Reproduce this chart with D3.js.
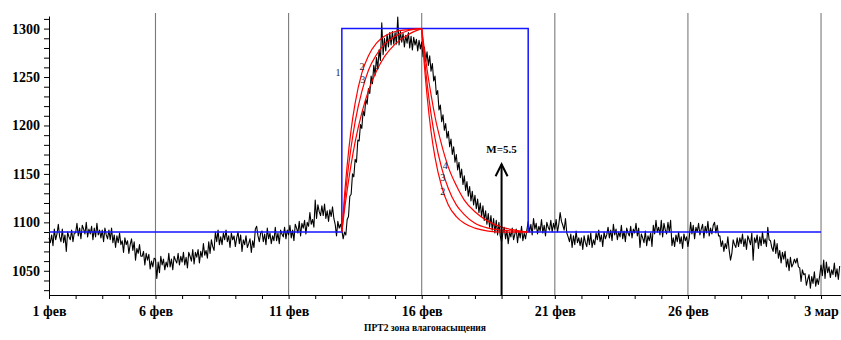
<!DOCTYPE html>
<html>
<head>
<meta charset="utf-8">
<script src="https://cdn.jsdelivr.net/npm/d3@7"></script>
<style>
  body { margin: 0; background: #fff; }
  svg { display: block; }
  .axis text { font-family: "Liberation Serif", serif; font-weight: bold; font-size: 14px; fill: #000; }
  .axis path, .axis line { stroke: #000; }
</style>
</head>
<body>
<div id="chart"></div>
<script>
// x = days counted from 1 фев (day 1 = axis start)
const dayLabels = ["1 фев", "6 фев", "11 фев", "16 фев", "21 фев", "26 фев", "3 мар"];
const labelDays = [1, 5, 10, 15, 20, 25, 30];
const gridDays = [5, 10, 15, 20, 25, 30];

// measured pressure, one reading every 0.05 day starting at day 1
const seriesStart = 1.0;
const seriesStep = 0.05;
const measured = [
  1084, 1079, 1087, 1076, 1093, 1082, 1088, 1098, 1085, 1080, 1093, 1079, 1087, 1070, 1090, 1085, 1082, 1092, 1080, 1089,
  1089, 1099, 1086, 1094, 1083, 1097, 1093, 1088, 1100, 1085, 1093, 1088, 1096, 1082, 1094, 1085, 1099, 1087, 1092, 1084,
  1092, 1080, 1094, 1087, 1083, 1092, 1082, 1094, 1079, 1087, 1074, 1086, 1079, 1089, 1077, 1081, 1069, 1084, 1077, 1081,
  1068, 1077, 1083, 1071, 1080, 1061, 1073, 1068, 1077, 1065, 1065, 1070, 1056, 1068, 1061, 1067, 1052, 1060, 1054, 1063,
  1062, 1042, 1059, 1048, 1065, 1056, 1062, 1051, 1059, 1054, 1068, 1054, 1062, 1051, 1065, 1061, 1058, 1068, 1056, 1065,
  1059, 1069, 1056, 1064, 1053, 1069, 1065, 1060, 1072, 1057, 1069, 1064, 1072, 1058, 1070, 1064, 1078, 1066, 1071, 1063,
  1080, 1068, 1082, 1075, 1071, 1090, 1080, 1092, 1077, 1085, 1077, 1089, 1082, 1092, 1080, 1086, 1074, 1089, 1082, 1086,
  1075, 1084, 1090, 1078, 1087, 1070, 1082, 1077, 1086, 1074, 1078, 1083, 1069, 1081, 1074, 1093, 1096, 1086, 1080, 1089,
  1091, 1080, 1088, 1077, 1094, 1083, 1089, 1078, 1086, 1081, 1095, 1081, 1089, 1078, 1092, 1088, 1085, 1095, 1083, 1092,
  1087, 1097, 1084, 1092, 1081, 1098, 1094, 1089, 1101, 1086, 1099, 1094, 1102, 1088, 1100, 1096, 1110, 1098, 1103, 1095,
  1123, 1104, 1118, 1111, 1107, 1117, 1107, 1119, 1104, 1112, 1101, 1113, 1106, 1116, 1104, 1098, 1086, 1101, 1094, 1098,
  1092, 1083, 1090, 1087, 1103, 1106, 1127, 1129, 1150, 1147, 1165, 1162, 1185, 1184, 1201, 1197, 1215, 1210, 1227, 1222,
  1238, 1233, 1251, 1243, 1262, 1252, 1270, 1259, 1278, 1267, 1306, 1273, 1290, 1277, 1294, 1281, 1296, 1283, 1297, 1284,
  1296, 1284, 1312, 1283, 1297, 1286, 1295, 1281, 1293, 1285, 1296, 1280, 1292, 1278, 1291, 1283, 1289, 1277, 1288, 1279,
  1286, 1271, 1281, 1266, 1276, 1262, 1272, 1256, 1264, 1246, 1251, 1232, 1236, 1216, 1221, 1204, 1211, 1195, 1202, 1187,
  1194, 1178, 1186, 1170, 1178, 1162, 1170, 1154, 1162, 1146, 1155, 1139, 1148, 1133, 1142, 1127, 1137, 1122, 1132, 1118,
  1128, 1114, 1124, 1110, 1120, 1106, 1117, 1102, 1112, 1098, 1109, 1095, 1107, 1092, 1104, 1089, 1102, 1087, 1100, 1086,
  1080, 1089, 1095, 1083, 1092, 1078, 1090, 1085, 1094, 1082, 1088, 1093, 1079, 1091, 1084, 1096, 1081, 1089, 1083, 1092,
  1101, 1090, 1098, 1087, 1104, 1093, 1099, 1088, 1096, 1091, 1103, 1089, 1097, 1086, 1100, 1095, 1092, 1102, 1090, 1099,
  1093, 1103, 1090, 1098, 1110, 1101, 1097, 1092, 1104, 1089, 1085, 1080, 1088, 1074, 1086, 1077, 1091, 1079, 1084, 1076,
  1084, 1072, 1086, 1079, 1075, 1087, 1077, 1089, 1074, 1082, 1077, 1089, 1082, 1092, 1080, 1087, 1075, 1090, 1083, 1087,
  1095, 1084, 1092, 1081, 1098, 1087, 1093, 1082, 1090, 1085, 1097, 1083, 1091, 1080, 1094, 1089, 1086, 1096, 1084, 1093,
  1089, 1099, 1086, 1094, 1074, 1088, 1084, 1079, 1091, 1076, 1086, 1081, 1089, 1075, 1097, 1088, 1102, 1090, 1095, 1087,
  1102, 1085, 1099, 1092, 1088, 1100, 1090, 1102, 1076, 1084, 1075, 1087, 1080, 1090, 1078, 1085, 1073, 1088, 1081, 1085,
  1075, 1084, 1100, 1088, 1097, 1083, 1095, 1090, 1099, 1087, 1093, 1098, 1084, 1096, 1089, 1101, 1086, 1094, 1088, 1097,
  1100, 1089, 1097, 1086, 1086, 1075, 1081, 1070, 1078, 1073, 1085, 1071, 1061, 1068, 1082, 1077, 1074, 1084, 1075, 1084,
  1078, 1088, 1075, 1083, 1072, 1086, 1082, 1077, 1089, 1061, 1084, 1079, 1087, 1073, 1085, 1076, 1090, 1078, 1083, 1075,
  1095, 1082, 1081, 1074, 1070, 1082, 1068, 1078, 1063, 1071, 1058, 1069, 1062, 1070, 1054, 1062, 1050, 1064, 1054, 1057,
  1062, 1058, 1063, 1054, 1053, 1039, 1051, 1046, 1047, 1035, 1041, 1046, 1032, 1044, 1037, 1049, 1034, 1042, 1036, 1045,
  1056, 1045, 1061, 1042, 1059, 1048, 1054, 1043, 1051, 1046, 1058, 1044, 1052, 1041, 1055
];

// curve 1: injected rate (step)
const stepDays = [1, 12, 12, 19, 19, 30];
const stepLevels = [1090, 1090, 1300, 1300, 1090, 1090];

// model curves 2..4: build-up and fall-off
const riseDays = [12, 12.1, 12.2, 12.35, 12.5, 12.75, 13, 13.3, 13.6, 14, 14.5, 15];
const rise2 = [1090, 1128, 1159, 1196, 1223, 1254, 1272, 1285, 1292, 1297, 1299, 1300];
const rise3 = [1090, 1120, 1146, 1178, 1204, 1235, 1257, 1273, 1284, 1292, 1298, 1300];
const rise4 = [1090, 1113, 1133, 1160, 1183, 1213, 1236, 1256, 1271, 1284, 1294, 1300];
const fallDays = [15, 15.1, 15.2, 15.35, 15.5, 15.75, 16, 16.3, 16.6, 17, 17.5, 18, 18.5, 19];
const fall2 = [1300, 1262, 1231, 1194, 1167, 1137, 1118, 1106, 1099, 1094, 1091, 1090, 1090, 1090];
const fall3 = [1300, 1270, 1244, 1212, 1187, 1156, 1135, 1118, 1108, 1099, 1094, 1092, 1091, 1090];
const fall4 = [1300, 1278, 1258, 1232, 1209, 1180, 1157, 1138, 1123, 1111, 1101, 1095, 1092, 1090];

// curve number labels (day, value)
const curveLabels = ["1", "2", "3", "4", "4", "3", "2"];
const curveLabelDays = [11.86, 12.76, 12.79, 13.3, 15.88, 15.79, 15.79];
const curveLabelValues = [1255, 1261, 1247, 1261, 1159, 1146, 1132];

const arrowDay = 18;
const arrowTop = 1160;
const arrowText = "M=5.5";
const title = "ПРТ2 зона влагонасыщения";

const margin = { top: 16, right: 0, bottom: 45, left: 49 };
const width = 841 - margin.left - margin.right;
const height = 340 - margin.top - margin.bottom;

const svg = d3.select("#chart").append("svg")
  .attr("width", 841)
  .attr("height", 340)
  .append("g")
  .attr("transform", "translate(" + margin.left + "," + margin.top + ")");

const x = d3.scaleLinear().domain([1, 30.75]).range([0, width]);
const y = d3.scaleLinear().domain([1025, 1313]).range([height, 0]);

// vertical grid
svg.selectAll(".grid")
  .data(gridDays)
  .enter()
  .append("line")
  .attr("x1", d => x(d)).attr("x2", d => x(d))
  .attr("y1", -3).attr("y2", height)
  .attr("stroke", "#7a7a7a")
  .attr("stroke-width", 1.1);

// axes
svg.append("g")
  .attr("class", "axis")
  .attr("transform", "translate(0," + height + ")")
  .call(d3.axisBottom(x)
    .tickValues(d3.range(1, 31))
    .tickSize(4)
    .tickPadding(7)
    .tickSizeOuter(0)
    .tickFormat(d => {
      const i = labelDays.indexOf(d);
      return i >= 0 ? dayLabels[i] : "";
    }));

svg.append("g")
  .attr("class", "axis")
  .call(d3.axisLeft(y)
    .tickValues(d3.range(1030, 1311, 10))
    .tickSize(5)
    .tickPadding(4)
    .tickSizeOuter(0)
    .tickFormat(d => d % 50 === 0 ? d : ""));

// measured data
const line = d3.line()
  .x(d => x(d[0]))
  .y(d => y(d[1]));

const measuredPts = measured.map((v, i) => [seriesStart + i * seriesStep, v]);
svg.append("path")
  .datum(measuredPts)
  .attr("fill", "none")
  .attr("stroke", "#000")
  .attr("stroke-width", 1.1)
  .attr("stroke-linejoin", "round")
  .attr("d", line);

// step (curve 1)
svg.append("path")
  .datum(stepDays.map((d, i) => [d, stepLevels[i]]))
  .attr("fill", "none")
  .attr("stroke", "#1515ff")
  .attr("stroke-width", 1.5)
  .attr("d", line);

// model curves
const smooth = d3.line()
  .x(d => x(d[0]))
  .y(d => y(d[1]))
  .curve(d3.curveMonotoneX);

[rise2, rise3, rise4].forEach(vals => {
  svg.append("path")
    .datum(riseDays.map((d, i) => [d, vals[i]]))
    .attr("fill", "none")
    .attr("stroke", "#ff0000")
    .attr("stroke-width", 1.2)
    .attr("d", smooth);
});
[fall2, fall3, fall4].forEach(vals => {
  svg.append("path")
    .datum(fallDays.map((d, i) => [d, vals[i]]))
    .attr("fill", "none")
    .attr("stroke", "#ff0000")
    .attr("stroke-width", 1.2)
    .attr("d", smooth);
});

// curve numbers
svg.selectAll(".clabel")
  .data(curveLabels)
  .enter()
  .append("text")
  .attr("x", (d, i) => x(curveLabelDays[i]))
  .attr("y", (d, i) => y(curveLabelValues[i]))
  .attr("dy", "0.35em")
  .attr("text-anchor", "middle")
  .style("font-family", "Liberation Serif, serif")
  .style("font-size", "10px")
  .style("fill", "#1a2040")
  .text(d => d);

// arrow
const ax = x(arrowDay);
svg.append("line")
  .attr("x1", ax).attr("x2", ax)
  .attr("y1", height).attr("y2", y(arrowTop))
  .attr("stroke", "#000")
  .attr("stroke-width", 2);
svg.append("path")
  .attr("d", "M" + (ax - 6) + "," + (y(arrowTop) + 12) + "L" + ax + "," + y(arrowTop) + "L" + (ax + 6) + "," + (y(arrowTop) + 12))
  .attr("fill", "none")
  .attr("stroke", "#000")
  .attr("stroke-width", 2);
svg.append("text")
  .attr("x", ax)
  .attr("y", y(arrowTop) - 11)
  .attr("text-anchor", "middle")
  .style("font-family", "Liberation Serif, serif")
  .style("font-weight", "bold")
  .style("font-size", "11px")
  .text(arrowText);

// title
svg.append("text")
  .attr("x", 364 - margin.left)
  .attr("y", height + 36)
  .attr("text-anchor", "start")
  .style("font-family", "Liberation Serif, serif")
  .style("font-weight", "bold")
  .style("font-size", "9.5px")
  .text(title);
</script>
</body>
</html>
